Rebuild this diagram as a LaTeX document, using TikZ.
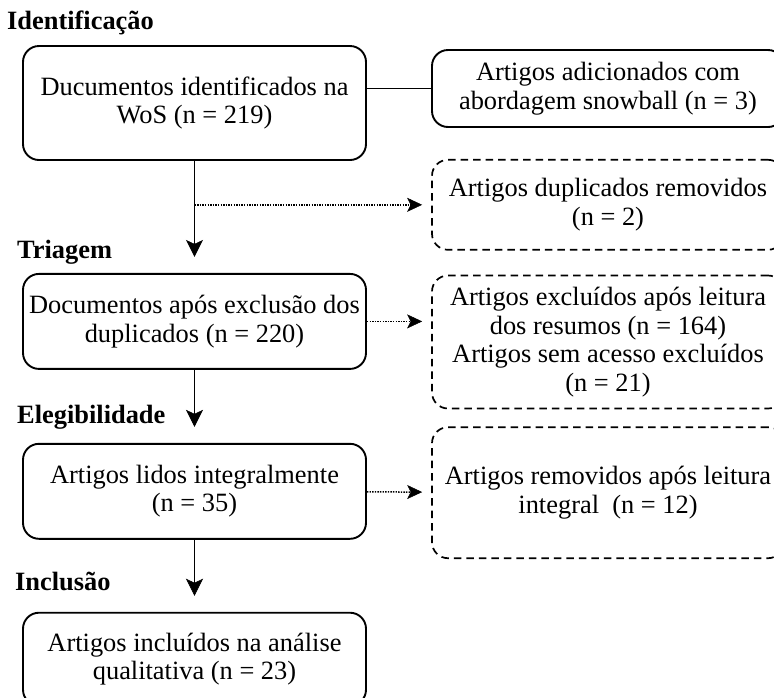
\documentclass[tikz,border=0pt]{standalone}
\usepackage{fontspec}
\setmainfont{Liberation Serif}
\usetikzlibrary{arrows.meta,positioning,calc}
\tikzset{
	box/.style={
		rectangle, rounded corners=16pt, line width=1.9pt, draw=black,
		minimum width=343pt, minimum height=95pt, align=center, inner sep=0pt,
		font=\fontsize{26.4}{28.5}\selectfont
	},
	%
	dbox/.style={
		box, minimum width=352pt, line width=1.7pt, dash pattern=on 7.5pt off 5pt
	},
	%
	phase/.style={
		anchor=base west, inner sep=0pt, font=\fontsize{26.4}{28}\selectfont\bfseries
	},
	%
	flow/.style={
		-{Stealth[length=17pt, width=17pt, inset=4pt, fill=black, line width=0.5pt]}, line width=1.8pt, shorten >=16pt
	},
	%
	dotflow/.style={
		-{Stealth[length=15pt, width=14pt, inset=3.5pt, fill=black, line width=0.5pt]}, line width=1.5pt,
		dash pattern=on 1.4pt off 1.2pt, shorten >=9pt
	}
}

\begin{document}
\begin{tikzpicture}[x=1pt, y=1pt]
\useasboundingbox (0,0) rectangle (774,-697);

% fases
\node(lid)[phase] at (7,-29){Identificação};
\node(ltri)[phase] at (17,-258){Triagem};
\node(leleg)[phase] at (17,-423){Elegibilidade};
\node(lincl)[phase] at (15,-590){Inclusão};

% coluna principal
\node(wos)[box, minimum height=114pt] at (194.5,-103){Ducumentos identificados na\\WoS (n = 219)};
\node(dup)[box, below=112pt of wos]{Documentos após exclusão dos\\duplicados (n = 220)};
\node(full)[box, below=73pt of dup]{Artigos lidos integralmente\\(n = 35)};
\node(incl)[box, below=72pt of full, minimum height=93pt]{Artigos incluídos na análise\\qualitativa (n = 23)};

% coluna da direita
\node(snow)[box, minimum width=352pt, minimum height=77pt] at (608,-88.5){Artigos adicionados com\\abordagem snowball (n = 3)};
\node(rem1)[dbox, below=31pt of snow, minimum height=90pt]{Artigos duplicados removidos\\(n = 2)};
\node(rem2)[dbox, below=24pt of rem1, minimum height=133pt]{Artigos excluídos após leitura\\dos resumos (n = 164)\\Artigos sem acesso excluídos\\(n = 21)};
\node(rem3)[dbox, below=17pt of rem2, minimum height=131pt]{Artigos removidos após leitura\\integral~~(n = 12)};

\draw[line width=1.8pt] (wos.east |- snow.west) -- (snow.west);
\draw[flow] (wos) -- (dup);
\draw[flow] (dup) -- (full);
\draw[flow] (full) -- (incl);

\draw[dotflow] (wos.south |- rem1.west) -- (rem1.west);
\draw[dotflow] (dup.east) -- (dup.east -| rem2.west);
\draw[dotflow] (full) -- (rem3);
\end{tikzpicture}
\end{document}
